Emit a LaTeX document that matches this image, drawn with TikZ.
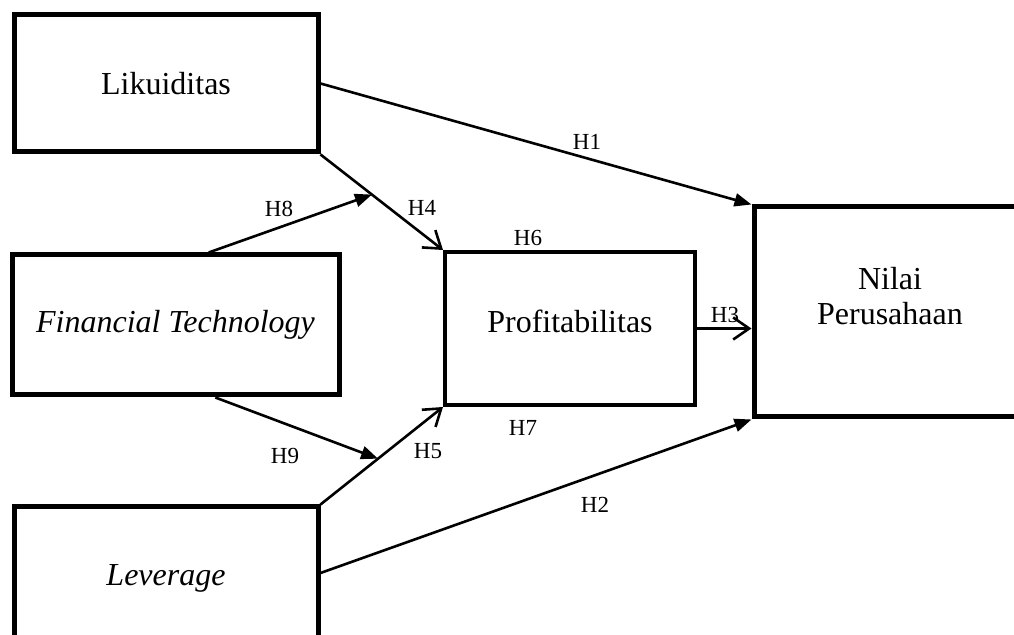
\documentclass[tikz,border=0pt]{standalone}
\usepackage{fontspec}
\setmainfont{Liberation Serif}
\usetikzlibrary{arrows.meta,calc}

\begin{document}
\begin{tikzpicture}[x=0.5pt, y=-0.5pt,
	varbox/.style={draw, line width=2.5pt, inner sep=0pt, font=\fontsize{16}{17.5}\selectfont},
	boxtext/.style={align=center, font=\fontsize{16}{17.5}\selectfont},
	hyp/.style={inner sep=1pt, font=\fontsize{11.5}{13}\selectfont},
	fillarrow/.style={-{Triangle[length=8.5pt,width=6.5pt]}, line width=1.3pt},
	openarrow/.style={-{Straight Barb[length=8pt,width=11pt,line width=1.3pt]}, line width=1.3pt}]
	\clip (0,0) rectangle (1014,635);
	% variables
	\node[varbox, minimum width=152pt, minimum height=68.5pt] (lik) at (166,83.5) {Likuiditas};
	\node[varbox, minimum width=163.5pt, minimum height=70pt] (fin) at (175.5,325) {\textit{Financial Technology}};
	\node[varbox, minimum width=152pt, minimum height=71pt] (lev) at (166,578) {\textit{Leverage}};
	\node[varbox, line width=2pt, minimum width=125pt, minimum height=76.5pt,
		label={[name=proftext, boxtext, yshift=3.5pt]center:Profitabilitas}] (prof) at (570,328.5) {};
	\node[varbox, minimum width=136pt, minimum height=105pt,
		label={[name=nilaitext, boxtext, yshift=8pt]center:Nilai\\Perusahaan}] (nilai) at (890,312) {};
	% paths
	\coordinate (h4mid) at ($(lik.south east)!0.42!(prof.north west)$);
	\coordinate (h5mid) at ($(lev.north east)!0.47!(prof.south west)$);
	\draw[fillarrow] (lik.east) -- (nilai.north west);
	\draw[fillarrow] ([yshift=2.5pt]lev.east) -- (nilai.south west);
	\draw[openarrow] (lik.south east) -- (prof.north west);
	\draw[openarrow] (lev.north east) -- (prof.south west);
	\draw[openarrow] (prof.east) -- (nilai.west |- prof.east);
	\draw[fillarrow] ($(fin.north west)!0.6!(fin.north east)$) -- (h4mid);
	\draw[fillarrow] ($(fin.south west)!0.62!(fin.south east)$) -- (h5mid);
	% hypotheses
	\foreach \px/\py/\txt in {587/142/H1, 595/505/H2, 725/315/H3, 422/208/H4, 428/451/H5, 528/238/H6, 523/428/H7, 279/209/H8, 285/456/H9}
		\node[hyp] (lbl\txt) at (\px,\py) {\txt};
\end{tikzpicture}
\end{document}
